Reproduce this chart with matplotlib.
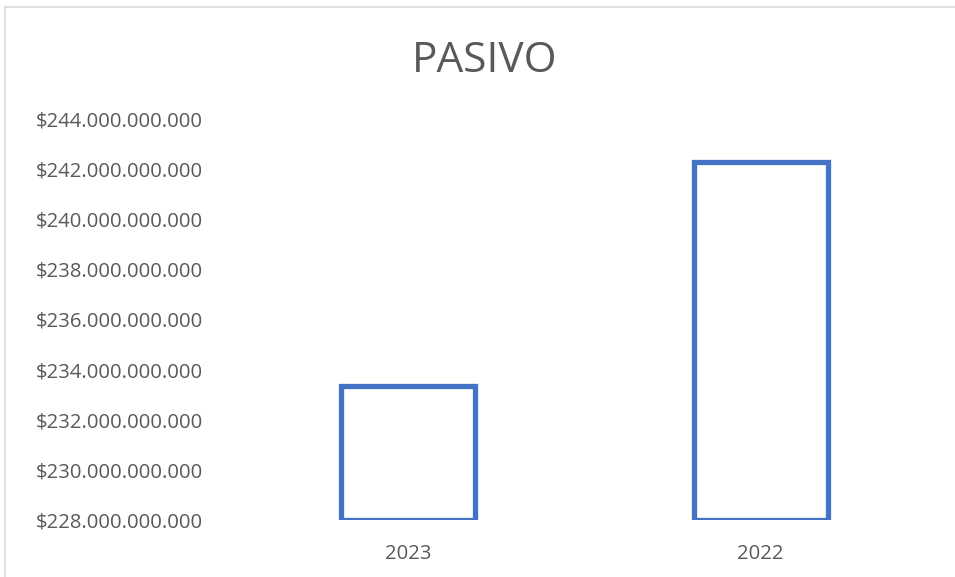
import matplotlib.pyplot as plt
from matplotlib.ticker import FuncFormatter, MultipleLocator
from matplotlib.lines import Line2D

years = ["2023", "2022"]
pasivo = [233.35e9, 242.3e9]

W, H = 955, 577
fig = plt.figure(figsize=(W / 100, H / 100), dpi=100)
plt.rcParams['font.family'] = ['Open Sans', 'DejaVu Sans']

# light frame round the chart area
fig.add_artist(Line2D([5 / W, 5 / W], [0, 1 - 7 / H], color="#d9d9d9", lw=1.2))
fig.add_artist(Line2D([5 / W, 1], [1 - 7 / H, 1 - 7 / H], color="#d9d9d9", lw=1.2))

ax = fig.add_axes([232 / W, 1 - 520 / H, (937 - 232) / W, (520 - 119) / H])
x = range(len(years))
ax.bar(x, [v - 228e9 for v in pasivo], bottom=228e9, width=0.38,
       facecolor="white", edgecolor="#4472c4", linewidth=3.8)

ax.set_xlim(-0.5, 1.5)
ax.set_ylim(228e9, 244e9)
ax.yaxis.set_major_locator(MultipleLocator(2e9))
ax.yaxis.set_major_formatter(FuncFormatter(lambda v, p: "$" + f"{v:,.0f}".replace(",", ".")))
ax.set_xticks(list(x))
ax.set_xticklabels(years)
ax.tick_params(axis="both", length=0, labelsize=14.6, colors="#595959")
ax.tick_params(axis="y", pad=21)
ax.tick_params(axis="x", pad=17)
for s in ax.spines.values():
    s.set_visible(False)

fig.text(485 / W, 1 - 61 / H, "PASIVO", ha="center", va="center", fontsize=30.5, color="#595959")

fig.savefig("out.png", dpi=100)
